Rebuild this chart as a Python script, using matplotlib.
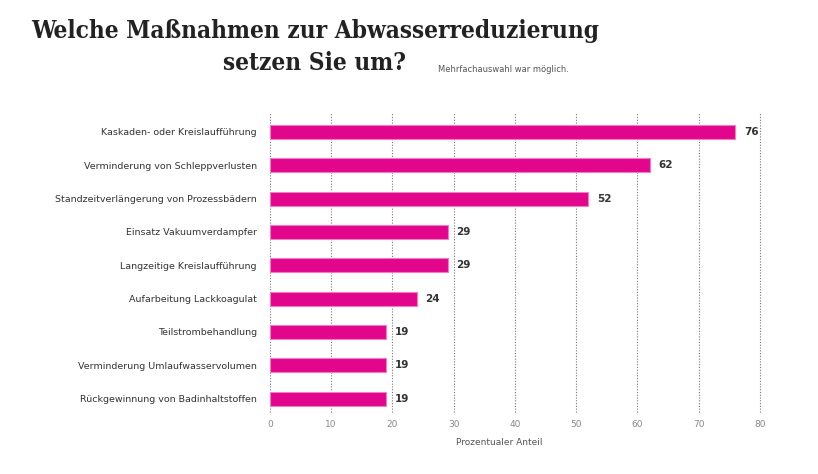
import matplotlib.pyplot as plt

# Daten
kategorien = [
    'Kaskaden- oder Kreislaufführung',
    'Verminderung von Schleppverlusten',
    'Standzeitverlängerung von Prozessbädern',
    'Einsatz Vakuumverdampfer',
    'Langzeitige Kreislaufführung',
    'Aufarbeitung Lackkoagulat',
    'Teilstrombehandlung',
    'Verminderung Umlaufwasservolumen',
    'Rückgewinnung von Badinhaltstoffen',
]
werte = [76, 62, 52, 29, 29, 24, 19, 19, 19]
x_ticks = [0, 10, 20, 30, 40, 50, 60, 70, 80]

fig = plt.figure(figsize=(8.18, 4.74), dpi=100)
ax = fig.add_axes([0.330, 0.131, 0.599, 0.633])

pos = list(range(len(kategorien)))
ax.barh(pos, werte, height=0.42, color='#e2068c', edgecolor='#f27cc0',
        linewidth=0.8, zorder=3)

for p, w in zip(pos, werte):
    ax.annotate(str(w), (w, p), xytext=(6, 0), textcoords='offset points',
                va='center', ha='left', fontsize=7.5, fontweight='bold',
                color='#333333')

ax.set_xlim(0, 80)
ax.set_ylim(8.4, -0.6)
ax.set_xticks(x_ticks)
ax.set_yticks(pos)
ax.set_yticklabels(kategorien, fontsize=6.8, color='#333333')
ax.tick_params(axis='x', length=0, labelsize=6.5, labelcolor='#888888', pad=6)
ax.tick_params(axis='y', length=0, pad=9.5)
for s in ax.spines.values():
    s.set_visible(False)
ax.grid(axis='x', linestyle=(0, (1, 1.5)), color='#777777', linewidth=0.8, zorder=0)
for gl in ax.get_xgridlines():
    gl.set_clip_on(False)
ax.set_xlabel('Prozentualer Anteil', fontsize=6.5, color='#555555')
ax.xaxis.set_label_coords(0.467, -0.087)

# Titel
fig.text(0.385, 0.935, 'Welche Maßnahmen zur Abwasserreduzierung', ha='center',
         va='center', fontsize=17.5, fontweight='bold', fontfamily='DejaVu Serif',
         fontstretch='condensed', color='#222222')
fig.text(0.385, 0.868, 'setzen Sie um?', ha='center', va='center', fontsize=17.5,
         fontweight='bold', fontfamily='DejaVu Serif', fontstretch='condensed',
         color='#222222')
fig.text(0.535, 0.853, 'Mehrfachauswahl war möglich.', ha='left', va='center',
         fontsize=6.0, color='#555555')

fig.savefig('out.png', dpi=100)
